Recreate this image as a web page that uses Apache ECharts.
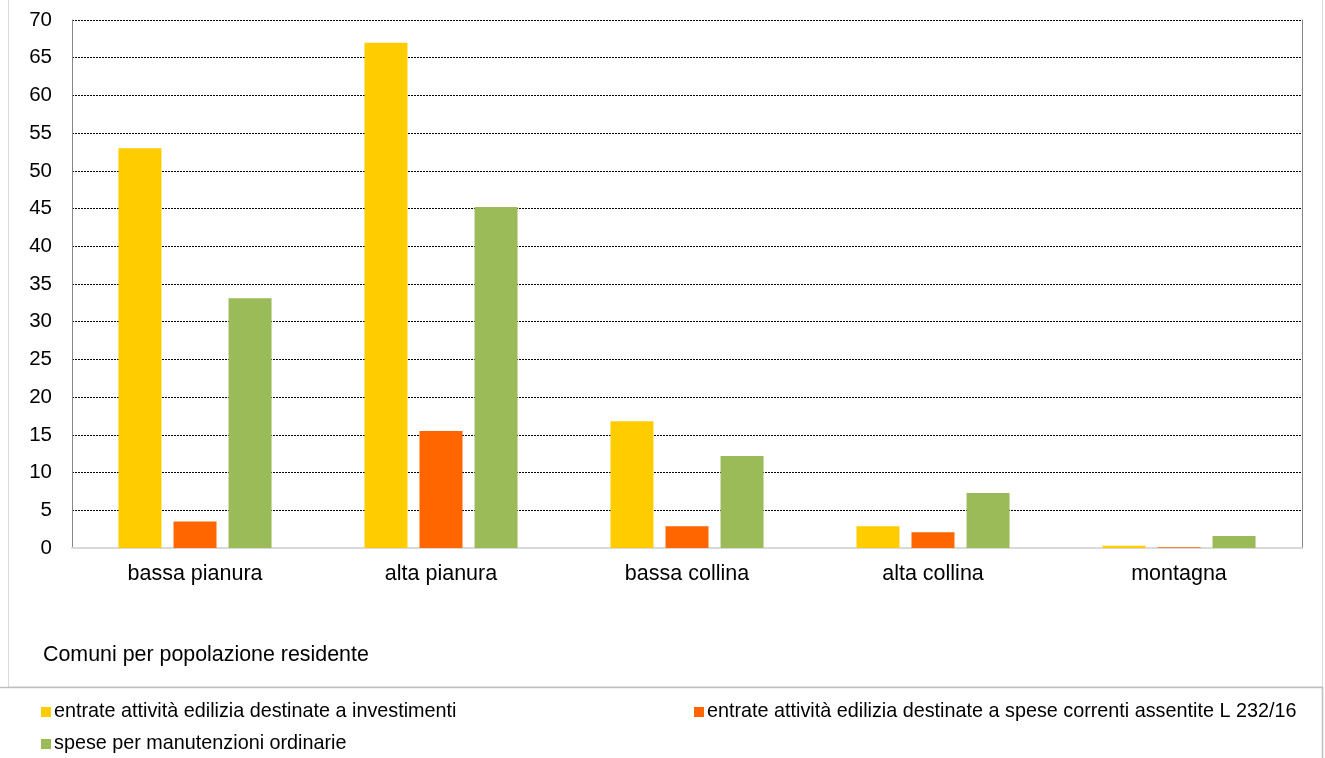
<!DOCTYPE html>
<html>
<head>
<meta charset="utf-8">
<script src="https://cdn.jsdelivr.net/npm/echarts@6/dist/echarts.min.js"></script>
<style>
  html, body { margin: 0; padding: 0; background: #fff; }
  #chart { width: 1325px; height: 758px; }
</style>
</head>
<body>
<div id="chart"></div>
<script>
// Zone altimetriche dei comuni
const categories = ['bassa pianura', 'alta pianura', 'bassa collina', 'alta collina', 'montagna'];

// Nomi delle serie
const seriesNames = [
  'entrate attività edilizia destinate a investimenti',
  'entrate attività edilizia destinate a spese correnti assentite L 232/16',
  'spese per manutenzioni ordinarie'
];

// Valori per zona
const investimenti = [53.0, 67.0, 16.8, 2.9, 0.3];
const speseCorrenti = [3.5, 15.5, 2.9, 2.1, 0.1];
const manutenzioni = [33.1, 45.2, 12.2, 7.3, 1.6];

// Scala asse verticale
const yMin = 0;
const yMax = 70;
const yStep = 5;

const colors = ['#FFCC00', '#FF6600', '#9BBB59'];
const font = 'Liberation Sans, Arial, sans-serif';

const chart = echarts.init(document.getElementById('chart'), null, { renderer: 'canvas' });

const legendBase = {
  orient: 'horizontal',
  icon: 'rect',
  itemWidth: 10,
  itemHeight: 10,
  textStyle: { fontFamily: font, fontSize: 19.8, color: '#000', padding: [0, 0, 0, -2] },
  selectedMode: false
};

chart.setOption({
  animation: false,
  backgroundColor: '#fff',
  color: colors,
  grid: { left: 72, right: 23, top: 20, bottom: 210, containLabel: false },
  legend: [
    Object.assign({}, legendBase, { data: [seriesNames[0]], left: 36, top: 697 }),
    Object.assign({}, legendBase, { data: [seriesNames[1]], left: 689, top: 697 }),
    Object.assign({}, legendBase, { data: [seriesNames[2]], left: 36, top: 729 })
  ],
  xAxis: {
    type: 'category',
    data: categories,
    axisLine: { show: true, lineStyle: { color: '#d9d9d9', width: 2 } },
    axisTick: { show: false },
    axisLabel: { fontFamily: font, fontSize: 21.5, color: '#000', margin: 15 }
  },
  yAxis: [
    {
      type: 'value',
      min: yMin,
      max: yMax,
      interval: yStep,
      axisLine: { show: true, lineStyle: { color: '#868686', width: 1 } },
      axisTick: { show: false },
      axisLabel: { fontFamily: font, fontSize: 20.5, color: '#000', margin: 20 },
      splitLine: { show: true, lineStyle: { color: '#000', width: 1, type: [2, 1] } }
    },
    {
      type: 'value',
      position: 'right',
      min: yMin,
      max: yMax,
      interval: yStep,
      axisLine: { show: true, lineStyle: { color: '#868686', width: 1 } },
      axisTick: { show: false },
      axisLabel: { show: false },
      splitLine: { show: false }
    }
  ],
  series: [
    { name: seriesNames[0], type: 'bar', data: investimenti, barWidth: 43, barGap: '28%', barCategoryGap: '38%' },
    { name: seriesNames[1], type: 'bar', data: speseCorrenti, barWidth: 43, barGap: '28%', barCategoryGap: '38%' },
    { name: seriesNames[2], type: 'bar', data: manutenzioni, barWidth: 43, barGap: '28%', barCategoryGap: '38%' }
  ],
  graphic: [
    {
      type: 'rect',
      shape: { x: 8.5, y: -5, width: 1314, height: 692 },
      style: { fill: 'none', stroke: '#d9d9d9', lineWidth: 1 },
      silent: true
    },
    {
      type: 'rect',
      shape: { x: -2, y: 687.5, width: 1324.5, height: 100 },
      style: { fill: 'none', stroke: '#bfbfbf', lineWidth: 1.5 },
      silent: true
    },
    {
      type: 'text',
      left: 43,
      top: 645,
      style: { text: 'Comuni per popolazione residente', font: '21.4px ' + font, fill: '#000' },
      silent: true
    }
  ]
});
</script>
</body>
</html>
